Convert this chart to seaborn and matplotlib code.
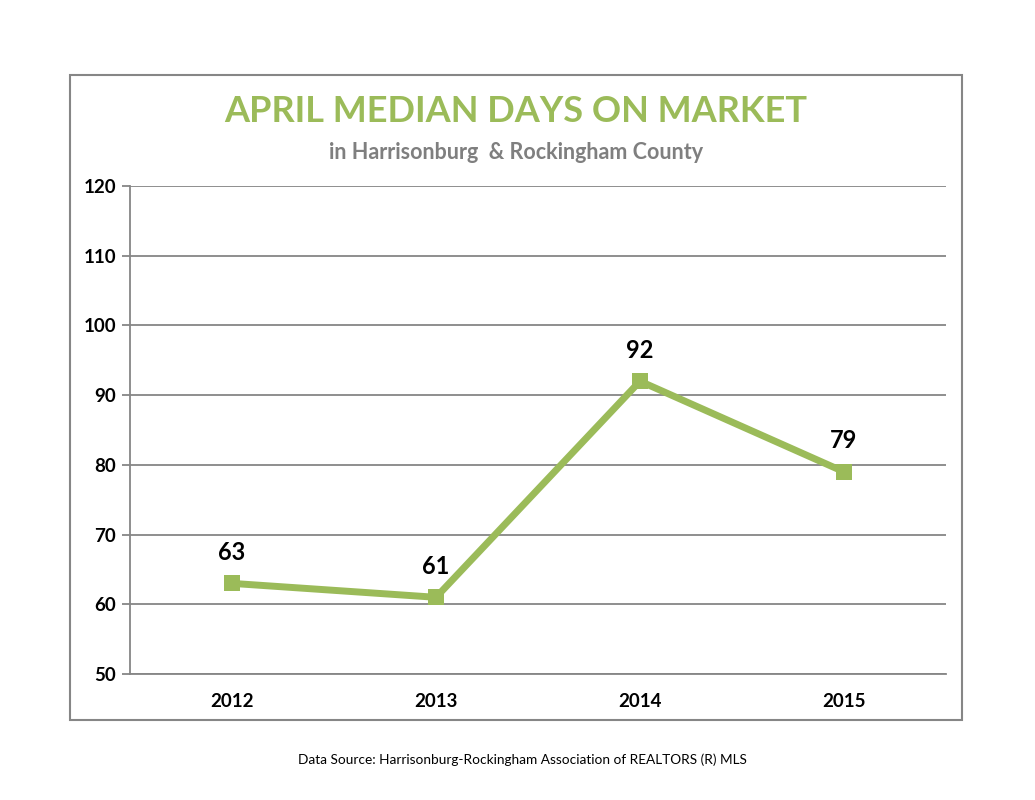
import pandas as pd
import matplotlib.pyplot as plt
import seaborn as sns
from matplotlib.patches import Rectangle

years = ["2012", "2013", "2014", "2015"]
days = [63, 61, 92, 79]
yticks = [50, 60, 70, 80, 90, 100, 110, 120]

green = "#9BBB59"
grid = "#868686"

sns.set_style("white")
plt.rcParams["font.family"] = ["Lato", "DejaVu Sans"]

df = pd.DataFrame({"year": years, "days": days})

fig = plt.figure(figsize=(10.35, 8), dpi=100)
ax = fig.add_axes([0.1256, 0.1575, 0.7884, 0.61])

sns.lineplot(data=df, x="year", y="days", ax=ax, color=green, lw=5,
             marker="s", markersize=11, markeredgewidth=0, sort=False)

ax.set_xlim(-0.5, len(years) - 0.5)
ax.set_ylim(yticks[0], yticks[-1])
ax.set_yticks(yticks)
ax.set_xticks(range(len(years)))
ax.set_xticklabels(years)
ax.set_xticks([i - 0.5 for i in range(len(years) + 1)], minor=True)
ax.yaxis.grid(True, color=grid, lw=1.3)
ax.set_axisbelow(True)
for s in ["top", "right"]:
    ax.spines[s].set_visible(False)
for s in ["left", "bottom"]:
    ax.spines[s].set_color(grid)
    ax.spines[s].set_linewidth(1.3)
ax.tick_params(axis="x", which="major", length=0, pad=14)
ax.tick_params(axis="x", which="minor", length=6, color=grid, width=1.3, direction="out")
ax.tick_params(axis="y", length=6, color=grid, width=1.3, pad=4, left=True)
for lab in ax.get_xticklabels() + ax.get_yticklabels():
    lab.set_fontweight("bold")
    lab.set_fontsize(13.5)
    lab.set_color("black")
ax.set_xlabel("")
ax.set_ylabel("")

for i, v in enumerate(days):
    ax.text(i, v + 2.8, str(v), ha="center", va="bottom",
            fontsize=17, fontweight="bold", color="black")

fig.patches.append(Rectangle((0.0676, 0.1), 0.862, 0.806, transform=fig.transFigure,
                             fill=False, edgecolor=grid, lw=1.5))
fig.text(0.4986, 0.86, "APRIL MEDIAN DAYS ON MARKET", ha="center", va="center",
         fontsize=26, fontweight="bold", color=green)
fig.text(0.4986, 0.809, "in Harrisonburg  & Rockingham County", ha="center", va="center",
         fontsize=15.5, fontweight="bold", color="#7F7F7F")
fig.text(0.505, 0.05, "Data Source: Harrisonburg-Rockingham Association of REALTORS (R) MLS",
         ha="center", va="center", fontsize=9.8, color="black")

fig.savefig("out.png", dpi=100, facecolor="white")
